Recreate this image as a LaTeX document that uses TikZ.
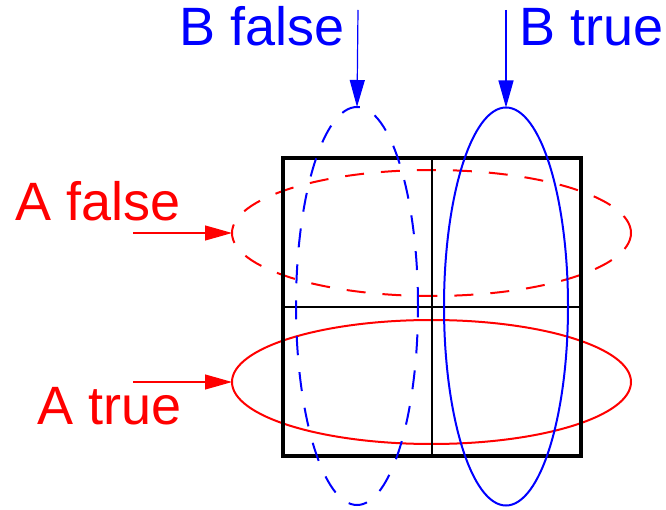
\documentclass[tikz,border=0pt]{standalone}
\usepackage{fontspec}
\setmainfont{Liberation Sans}
\usetikzlibrary{arrows.meta,shapes.geometric}
\begin{document}
\begin{tikzpicture}[x=1pt,y=-1pt,
  lbl/.style={font=\fontsize{54}{60}\selectfont, inner sep=0pt},
  oval/.style={ellipse, draw, line width=2pt, inner sep=0pt, outer sep=0pt},
  dsh/.style={dash pattern=on 19pt off 17pt},
  arr/.style={line width=1.2pt, -{Triangle[length=27pt,width=15pt]}},
  thin/.style={line width=2pt}]
\useasboundingbox (0,0) rectangle (666,510);
% red ellipses
\node[oval, red, dsh, minimum width=399pt, minimum height=126pt] (af) at (431.5,233) {};
\node[oval, red, minimum width=399pt, minimum height=124pt] (at) at (431.5,382) {};
% square
\node[draw, line width=4pt, minimum width=298pt, minimum height=298pt, inner sep=0pt, outer sep=0pt] (sq) at (432,307) {};
\draw[thin] (sq.north) -- (sq.south);
\draw[thin] (sq.west) -- (sq.east);
% blue ellipses
\node[oval, blue, dsh, minimum width=122pt, minimum height=398pt] (bf) at (357,306) {};
\node[oval, blue, minimum width=124pt, minimum height=398pt] (bt) at (506,306.5) {};
% labels
\node[lbl, blue, anchor=base east] (lbf) at (345,46) {B false};
\node[lbl, blue, anchor=base west] (lbt) at (519,46) {B true};
\node[lbl, red, anchor=base west] (laf) at (15,221) {A false};
\node[lbl, red, anchor=base west] (lat) at (37,424) {A true};
% arrow tails
\coordinate (cbf) at (358,10);
\coordinate (cbt) at (506,10);
\coordinate (caf) at (133,233);
\coordinate (cat) at (133,382);
\draw[arr, blue] (cbf) -- (bf.north);
\draw[arr, blue] (cbt) -- (bt.north);
\draw[arr, red] (caf) -- (af.west);
\draw[arr, red] (cat) -- (at.west);
\end{tikzpicture}
\end{document}
